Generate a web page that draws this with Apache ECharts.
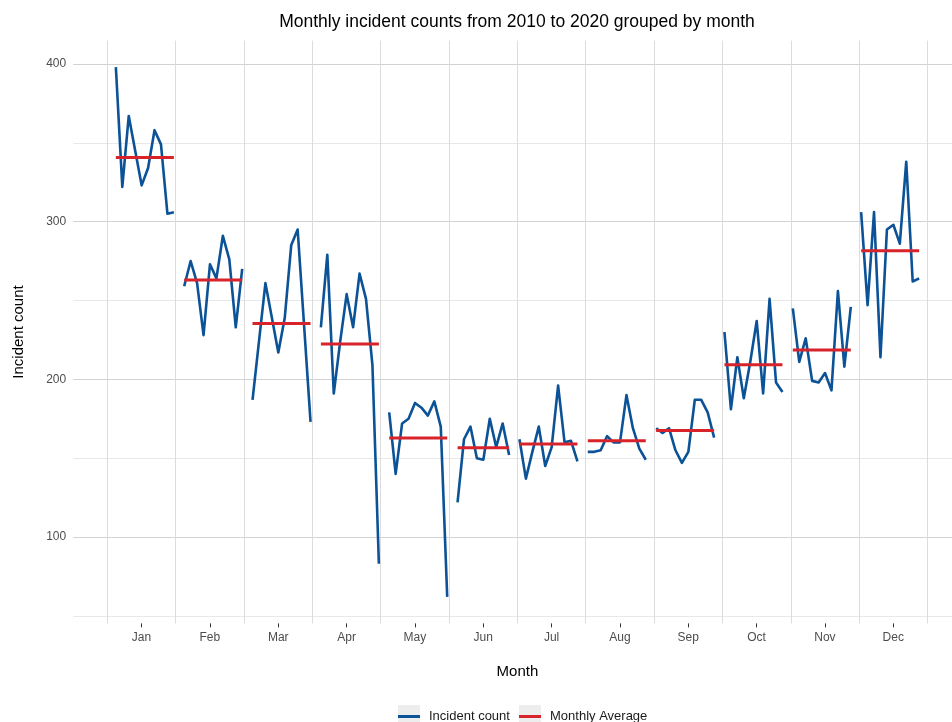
<!DOCTYPE html>
<html>
<head>
<meta charset="utf-8">
<script src="https://cdn.jsdelivr.net/npm/echarts@6/dist/echarts.min.js"></script>
<style>
  html, body { margin: 0; padding: 0; background: #fff; }
  #chart { width: 952px; height: 722px; }
</style>
</head>
<body>
<div id="chart"></div>
<script>
// month order on the x axis
const months = ['Jan', 'Feb', 'Mar', 'Apr', 'May', 'Jun', 'Jul', 'Aug', 'Sep', 'Oct', 'Nov', 'Dec'];
// first year present for each month (series runs Jul 2010 .. May 2020)
const startYear = [2011, 2011, 2011, 2011, 2011, 2011, 2010, 2010, 2010, 2010, 2010, 2010];

// incident counts, one value per year
const jan = [398, 322, 367, 345, 323, 334, 358, 349, 305, 306];
const feb = [259, 275, 261, 228, 273, 264, 291, 276, 233, 270];
const mar = [187, 224, 261, 239, 217, 239, 285, 295, 234, 173];
const apr = [233, 279, 191, 224, 254, 233, 267, 251, 209, 83];
const may = [179, 140, 172, 175, 185, 182, 177, 186, 170, 62];
const jun = [122, 162, 170, 150, 149, 175, 157, 172, 152];
const jul = [162, 137, 154, 170, 145, 157, 196, 160, 161, 148];
const aug = [154, 154, 155, 164, 160, 160, 190, 169, 156, 149];
const sep = [169, 166, 169, 155, 147, 154, 187, 187, 179, 163];
const oct = [230, 181, 214, 188, 211, 237, 191, 251, 198, 192];
const nov = [245, 211, 226, 199, 198, 204, 193, 256, 208, 246];
const dec = [306, 247, 306, 214, 295, 298, 286, 338, 262, 264];

const counts = [jan, feb, mar, apr, may, jun, jul, aug, sep, oct, nov, dec];

const BLUE = '#0b5296';
const RED = '#d8232a';
// position of a year inside its month slot
const yearStep = 0.0943;
const slotStart = -0.47;
const xOf = (m, year) => m + 1 + slotStart + (year - 2010) * yearStep;

const series = [];
const avgSeries = [];
counts.forEach((vals, m) => {
  const pts = vals.map((v, i) => [xOf(m, startYear[m] + i), v]);
  series.push({
    name: 'Incident count', type: 'line', data: pts,
    showSymbol: false, symbol: 'none',
    lineStyle: { color: BLUE, width: 2.6, join: 'round' },
    itemStyle: { color: BLUE }, z: 2
  });
  const avg = vals.reduce((a, b) => a + b, 0) / vals.length;
  avgSeries.push({
    name: 'Monthly Average', type: 'line',
    data: [[pts[0][0], avg], [pts[pts.length - 1][0], avg]],
    showSymbol: false, symbol: 'none',
    lineStyle: { color: RED, width: 3 },
    itemStyle: { color: RED }, z: 3
  });
});

const chart = echarts.init(document.getElementById('chart'), null, { renderer: 'canvas' });
const legendText = { color: '#1a1a1a', fontSize: 13, padding: [0, 0, 0, 4],
  fontFamily: 'Liberation Sans, Arial, sans-serif' };
const lineIcon = 'path://M0,0 L20,0 L20,2.7 L0,2.7 Z';

chart.setOption({
  animation: false,
  backgroundColor: '#fff',
  textStyle: { fontFamily: 'Liberation Sans, Arial, sans-serif' },
  title: {
    text: 'Monthly incident counts from 2010 to 2020 grouped by month',
    left: 517, top: 13, padding: 0, textAlign: 'center',
    textStyle: { fontSize: 17.5, fontWeight: 'normal', color: '#000' }
  },
  legend: [
    { data: ['Incident count'], left: 398, top: 710, padding: 0, itemWidth: 22, itemHeight: 14,
      icon: lineIcon, textStyle: legendText },
    { data: ['Monthly Average'], left: 519, top: 710, padding: 0, itemWidth: 22, itemHeight: 14,
      icon: lineIcon, textStyle: legendText }
  ],
  graphic: [
    { type: 'rect', left: 398, top: 705, shape: { width: 22, height: 20 }, style: { fill: '#ededed' }, z: 0 },
    { type: 'rect', left: 519, top: 705, shape: { width: 22, height: 20 }, style: { fill: '#ededed' }, z: 0 }
  ],
  grid: { left: 73.2, right: -9.6, top: 40.6, bottom: 98.6, outerBoundsMode: 'none', containLabel: false },
  xAxis: {
    type: 'value', min: 0, max: 13, interval: 1,
    name: 'Month', nameLocation: 'middle', nameGap: 41,
    nameTextStyle: { fontSize: 15, color: '#000' },
    axisLine: { show: false },
    axisTick: { show: true, length: 4, customValues: [1, 2, 3, 4, 5, 6, 7, 8, 9, 10, 11, 12],
      lineStyle: { color: '#333', width: 1 } },
    axisLabel: { customValues: [1, 2, 3, 4, 5, 6, 7, 8, 9, 10, 11, 12], margin: 8,
      color: '#4d4d4d', fontSize: 12, formatter: v => months[v - 1] || '' },
    splitLine: { show: false },
    minorTick: { show: false, splitNumber: 2 },
    minorSplitLine: { show: true, lineStyle: { color: '#dcdcdc', width: 1 } }
  },
  yAxis: {
    type: 'value', min: 45.2, max: 414.8,
    name: 'Incident count', nameLocation: 'middle', nameGap: 47, nameRotate: 90,
    nameTextStyle: { fontSize: 15, color: '#000' },
    axisLine: { show: false },
    axisTick: { show: false, customValues: [50, 100, 150, 200, 250, 300, 350, 400] },
    axisLabel: { customValues: [100, 200, 300, 400], margin: 7, color: '#4d4d4d', fontSize: 12 },
    splitLine: { show: true, showMinLine: true, showMaxLine: true,
      lineStyle: { color: ['#e8e8e8', '#d2d2d2'], width: 1.1 } }
  },
  series: series.concat(avgSeries)
});
</script>
</body>
</html>
